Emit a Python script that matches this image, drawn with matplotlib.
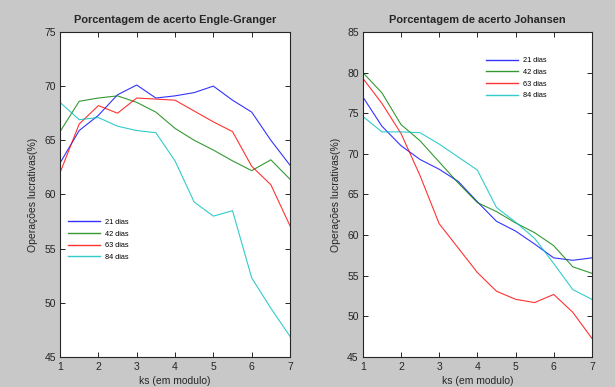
import matplotlib
matplotlib.use("Agg")
import matplotlib.pyplot as plt

plt.rcParams['font.family'] = ['Liberation Sans', 'DejaVu Sans']

# dias de estimacao / ks (em modulo)
ks = [1, 1.5, 2, 2.5, 3, 3.5, 4, 4.5, 5, 5.5, 6, 6.5, 7]
series_labels = ['21 dias', '42 dias', '63 dias', '84 dias']
series_colors = [(0, 0, 1), (0, 0.5, 0), (1, 0, 0), (0, 0.75, 0.75)]

# Engle-Granger
eg_21 = [62.9, 65.9, 67.3, 69.2, 70.1, 68.9, 69.1, 69.4, 70.0, 68.7, 67.6, 65.0, 62.7]
eg_42 = [65.8, 68.6, 68.9, 69.1, 68.5, 67.6, 66.1, 65.0, 64.1, 63.1, 62.2, 63.2, 61.4]
eg_63 = [62.0, 66.5, 68.2, 67.5, 68.9, 68.8, 68.7, 67.7, 66.7, 65.8, 62.6, 60.9, 57.1]
eg_84 = [68.5, 66.9, 67.1, 66.3, 65.9, 65.7, 63.1, 59.3, 58.0, 58.5, 52.3, 49.5, 46.9]

# Johansen
jo_21 = [77.0, 73.4, 71.0, 69.3, 68.1, 66.6, 64.1, 61.7, 60.5, 58.9, 57.2, 56.9, 57.2]
jo_42 = [80.0, 77.5, 73.6, 71.6, 69.0, 66.4, 64.0, 62.9, 61.5, 60.3, 58.7, 56.1, 55.3]
jo_63 = [79.3, 76.2, 72.5, 67.3, 61.4, 58.4, 55.4, 53.1, 52.1, 51.7, 52.7, 50.5, 47.3]
jo_84 = [74.6, 72.7, 72.7, 72.6, 71.2, 69.6, 68.0, 63.4, 61.6, 59.6, 56.5, 53.3, 52.1]

panels = [
    ('Porcentagem de acerto Engle-Granger', [eg_21, eg_42, eg_63, eg_84],
     (45, 75), [0.0976, 0.0775, 0.374, 0.840], (0.035, 0.425)),
    ('Porcentagem de acerto Johansen', [jo_21, jo_42, jo_63, jo_84],
     (45, 85), [0.590, 0.0775, 0.3724, 0.840], (0.538, 0.922)),
]

fig = plt.figure(figsize=(6.15, 3.87), dpi=100, facecolor='#c8c8c8')
text_color = '#262626'

for title, data, ylim, rect, leg_pos in panels:
    ax = fig.add_axes(rect)
    for values, label, color in zip(data, series_labels, series_colors):
        ax.plot(ks, values, color=color, lw=0.8, alpha=0.8, label=label)
    ax.set_xlim(1, 7)
    ax.set_ylim(*ylim)
    ax.set_xticks(range(1, 8))
    ax.set_yticks(range(ylim[0], ylim[1] + 1, 5))
    ax.tick_params(direction='in', length=3.5, width=0.7, top=True, right=True,
                   labelsize=7.5, colors=text_color, pad=3)
    ax.tick_params(axis='x', pad=3.8)
    for sp in ax.spines.values():
        sp.set_color(text_color)
        sp.set_linewidth(0.8)
    ax.set_title(title, fontsize=7.9, fontweight='bold', color=text_color, pad=6.5)
    ax.set_xlabel('ks (em modulo)', fontsize=7.5, color=text_color, labelpad=2.5)
    ax.set_ylabel('Operações lucrativas(%)', fontsize=7.5, color=text_color, labelpad=4.5)
    leg = ax.legend(loc='upper left', bbox_to_anchor=leg_pos, frameon=False,
                    fontsize=5.3, handlelength=4.4, handletextpad=0.6,
                    labelspacing=0.6, borderpad=0, borderaxespad=0)
    for line in leg.get_lines():
        line.set_linewidth(1.0)

fig.savefig('out.png', dpi=100, facecolor=fig.get_facecolor())
